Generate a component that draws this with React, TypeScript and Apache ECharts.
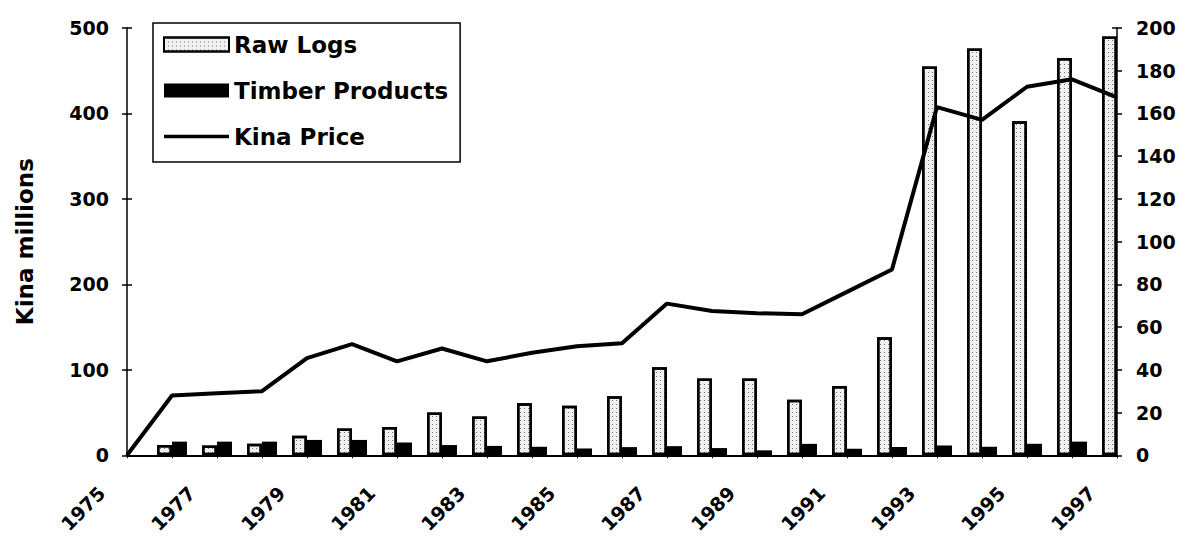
import React, { useEffect, useRef } from "react";
import * as echarts from "echarts";

// Export earnings of the forestry sector, 1975-1997
const years = [
  "1975", "1976", "1977", "1978", "1979", "1980", "1981", "1982",
  "1983", "1984", "1985", "1986", "1987", "1988", "1989", "1990",
  "1991", "1992", "1993", "1994", "1995", "1996", "1997",
];

// Kina millions (left axis)
const rawLogs = [
  null, 12, 11.5, 13.5, 23, 31.5, 33, 50, 45.5, 61, 58, 69, 103, 90, 90, 65,
  81, 138, 455, 476, 391, 465, 490,
];
const timberProducts = [
  null, 16, 16, 16, 18, 18, 15, 12, 11, 10, 8, 9.6, 10.7, 8.5, 5.8, 13.4,
  7.7, 9.7, 11.5, 10, 13.5, 16, null,
];

// Price index (right axis)
const kinaPrice = [
  0, 28, 29, 30, 45.5, 52, 44, 50, 44, 48, 51, 52.5, 71, 67.5, 66.5, 66,
  76.5, 87, 163, 157, 172.5, 176, 167.5,
];

const leftTicks = { min: 0, max: 500, interval: 100 };
const rightTicks = { min: 0, max: 200, interval: 20 };

const FONT = "DejaVu Sans";
const INK = "#000";

export default function App() {
  const ref = useRef<HTMLDivElement>(null);

  useEffect(() => {
    if (!ref.current) return;
    const chart = echarts.init(ref.current, null, { renderer: "svg" });

    const labelStyle = {
      color: INK,
      fontFamily: FONT,
      fontWeight: "bold" as const,
      fontSize: 19,
    };

    chart.setOption({
      animation: false,
      backgroundColor: "#fff",
      grid: { left: 127, right: 69, top: 28, bottom: 76, containLabel: false },
      legend: {
        orient: "vertical",
        left: 153,
        top: 23,
        padding: [10, 12, 14, 10],
        itemGap: 23,
        itemWidth: 65,
        itemHeight: 14,
        borderColor: INK,
        borderWidth: 1.5,
        borderRadius: 0,
        backgroundColor: "#fff",
        textStyle: {
          color: INK,
          fontFamily: FONT,
          fontWeight: "bold",
          fontSize: 23,
        },
        data: [
          { name: "Raw Logs", icon: "rect" },
          { name: "Timber Products", icon: "rect" },
          { name: "Kina Price", icon: "path://M0,0H65V3.5H0Z" },
        ],
      },
      xAxis: {
        type: "category",
        data: years,
        boundaryGap: false,
        axisLine: { show: true, lineStyle: { color: INK, width: 2 } },
        axisTick: {
          show: true,
          interval: 0,
          length: 3,
          lineStyle: { color: INK, width: 1 },
        },
        axisLabel: {
          ...labelStyle,
          interval: 1,
          rotate: 45,
          margin: 9,
          padding: [0, 36, 0, 0],
        },
        splitLine: { show: false },
      },
      yAxis: [
        {
          type: "value",
          position: "left",
          ...leftTicks,
          name: "Kina millions",
          nameLocation: "middle",
          nameRotate: 90,
          nameGap: 91,
          nameTextStyle: {
            color: INK,
            fontFamily: FONT,
            fontWeight: "bold",
            fontSize: 23,
          },
          axisLine: { show: true, lineStyle: { color: INK, width: 1.5 } },
          axisTick: { show: true, length: 5, lineStyle: { color: INK, width: 1.5 } },
          axisLabel: { ...labelStyle, margin: 18 },
          splitLine: { show: false },
        },
        {
          type: "value",
          position: "right",
          ...rightTicks,
          axisLine: { show: true, lineStyle: { color: INK, width: 1.5 } },
          axisTick: { show: true, length: 5, lineStyle: { color: INK, width: 1.5 } },
          axisLabel: { ...labelStyle, margin: 19 },
          splitLine: { show: false },
        },
        // inner halves of the cross-shaped tick marks
        {
          type: "value",
          position: "left",
          ...leftTicks,
          axisLine: { show: false },
          axisTick: { show: true, inside: true, length: 5, lineStyle: { color: INK, width: 1.5 } },
          axisLabel: { show: false },
          splitLine: { show: false },
        },
        {
          type: "value",
          position: "right",
          ...rightTicks,
          axisLine: { show: false },
          axisTick: { show: true, inside: true, length: 5, lineStyle: { color: INK, width: 1.5 } },
          axisLabel: { show: false },
          splitLine: { show: false },
        },
      ],
      series: [
        {
          name: "Raw Logs",
          type: "bar",
          yAxisIndex: 0,
          data: rawLogs,
          barWidth: 15,
          barGap: "0%",
          clip: true,
          itemStyle: {
            color: "#f0f0f0",
            borderColor: INK,
            borderWidth: 2.5,
            decal: {
              symbol: "rect",
              symbolSize: 1,
              color: "rgba(0,0,0,0.5)",
              dashArrayX: [1, 3],
              dashArrayY: [1, 3],
              rotation: 0,
            },
          },
        },
        {
          name: "Timber Products",
          type: "bar",
          yAxisIndex: 0,
          data: timberProducts,
          barWidth: 15,
          barGap: "0%",
          clip: true,
          itemStyle: { color: INK },
        },
        {
          name: "Kina Price",
          type: "line",
          yAxisIndex: 1,
          data: kinaPrice,
          symbol: "none",
          showSymbol: false,
          lineStyle: { color: INK, width: 4 },
          itemStyle: { color: INK },
        },
      ],
    });

    return () => chart.dispose();
  }, []);

  return (
    <div
      ref={ref}
      style={{
        position: "absolute",
        left: 0,
        top: 0,
        width: 1186,
        height: 536,
        background: "#fff",
      }}
    />
  );
}
